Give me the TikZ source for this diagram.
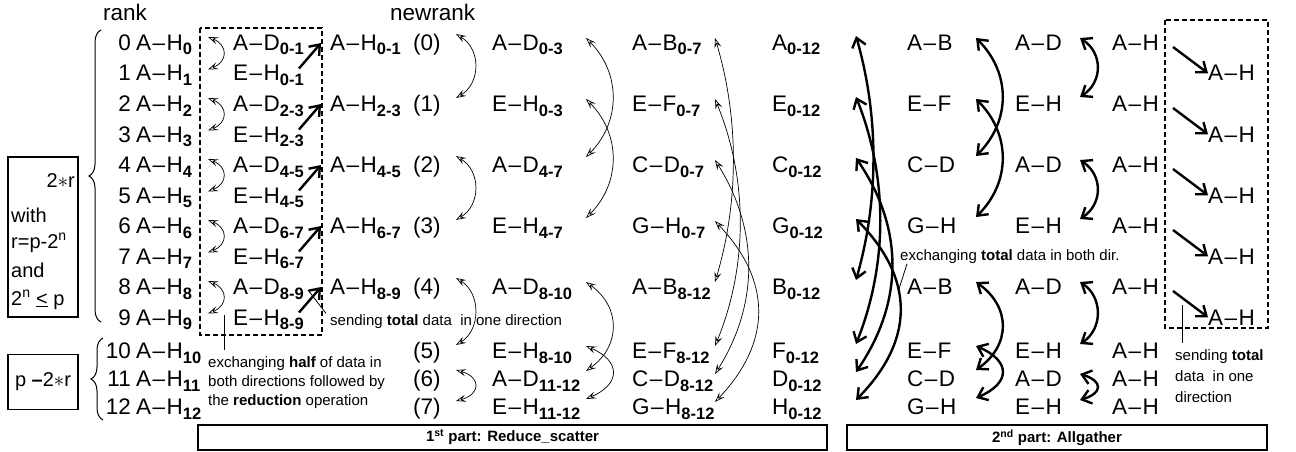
\documentclass[tikz,border=0pt]{standalone}
\usepackage{fontspec}
\setmainfont{Liberation Sans}
\usetikzlibrary{arrows.meta, positioning, calc, decorations.pathreplacing}

\newcommand{\dsh}{\kern1.5pt--\kern1.5pt}
\newcommand{\subx}[1]{\raisebox{-4.5pt}{\fontsize{16.5}{18}\selectfont\bfseries #1}}

\begin{document}
\begin{tikzpicture}[x=1pt, y=-1pt,
    cell/.style={anchor=base west, inner sep=0pt, font=\fontsize{22.5}{26}\selectfont},
    small/.style={anchor=base west, inner sep=0pt, align=left, font=\fontsize{15}{19}\selectfont},
    cond/.style={anchor=base west, inner sep=0pt, font=\fontsize{20}{24}\selectfont},
    thinarrow/.style={{Stealth[open,length=10pt,width=7pt,inset=4pt]}-{Stealth[open,length=10pt,width=7pt,inset=4pt]}, line width=0.7pt},
    thickarrow/.style={{Straight Barb[length=9pt,width=14pt]}-{Straight Barb[length=9pt,width=14pt]}, line width=2.4pt},
    onearrow/.style={-{Straight Barb[length=9pt,width=14pt]}, line width=2.4pt},
    dashbox/.style={dash pattern=on 5pt off 3pt, line width=1.2pt},
    frame/.style={draw, line width=1.3pt, inner sep=0pt},
    leader/.style={line width=0.8pt},
    bracket/.style={decorate, decoration={brace, amplitude=12pt}, line width=1pt}
]
\useasboundingbox (0,0) rectangle (1296,452);

% headers
\node[cell] (rank) at (103,21) {rank};
\node[cell] (newrank) at (390,21) {newrank};

% ranks 0..12
\foreach \k/\y in {0/50.5,1/81,2/111.5,3/142,4/172.5,5/203,6/233.5,7/264,8/294.5,9/325,10/358.5,11/386.5,12/414.5} {
  \node[cell, anchor=base east] (n\k) at (131,\y) {\k};
  \node[cell] (r\k) at (136,\y) {A\dsh H\subx{\k}};
}

% pairs inside the dashed box
\foreach \k/\j/\y/\z in {0/1/50.5/81, 2/3/111.5/142, 4/5/172.5/203, 6/7/233.5/264, 8/9/294.5/325} {
  \node[cell] (d\k) at (233,\y) {A\dsh D\subx{\k-\j}};
  \node[cell] (d\j) at (233,\z) {E\dsh H\subx{\k-\j}};
  \node[cell] (h\k) at (330,\y) {A\dsh H\subx{\k-\j}};
}
\draw[dashbox] (200,28) rectangle (322,335);

% the eight columns of the two parts
\foreach \i/\y/\s/\t/\u/\v/\w in {
    0/50.5/{A\dsh D\subx{0-3}}/{A\dsh B\subx{0-7}}/{A\subx{0-12}}/{A\dsh B}/{A\dsh D},
    1/111.5/{E\dsh H\subx{0-3}}/{E\dsh F\subx{0-7}}/{E\subx{0-12}}/{E\dsh F}/{E\dsh H},
    2/172.5/{A\dsh D\subx{4-7}}/{C\dsh D\subx{0-7}}/{C\subx{0-12}}/{C\dsh D}/{A\dsh D},
    3/233.5/{E\dsh H\subx{4-7}}/{G\dsh H\subx{0-7}}/{G\subx{0-12}}/{G\dsh H}/{E\dsh H},
    4/294.5/{A\dsh D\subx{8-10}}/{A\dsh B\subx{8-12}}/{B\subx{0-12}}/{A\dsh B}/{A\dsh D},
    5/358.5/{E\dsh H\subx{8-10}}/{E\dsh F\subx{8-12}}/{F\subx{0-12}}/{E\dsh F}/{E\dsh H},
    6/386.5/{A\dsh D\subx{11-12}}/{C\dsh D\subx{8-12}}/{D\subx{0-12}}/{C\dsh D}/{A\dsh D},
    7/414.5/{E\dsh H\subx{11-12}}/{G\dsh H\subx{8-12}}/{H\subx{0-12}}/{G\dsh H}/{E\dsh H}} {
  \node[cell] (p\i) at (413,\y) {(\i)};
  \node[cell] (s\i) at (492,\y) {\s};
  \node[cell] (t\i) at (632,\y) {\t};
  \node[cell] (u\i) at (772,\y) {\u};
  \node[cell] (v\i) at (907,\y) {\v};
  \node[cell] (w\i) at (1015,\y) {\w};
  \node[cell] (z\i) at (1112,\y) {A\dsh H};
}
\foreach \i/\y in {0/81, 1/142, 2/203, 3/264, 4/325}
  \node[cell] (y\i) at (1208,\y) {A\dsh H};
\draw[dashbox] (1165,20) rectangle (1268,328);

% column x of the connectors
\coordinate (cA) at (208,0);
\coordinate (cB) at (299,0);
\coordinate (cB2) at (321,0);
\coordinate (cP) at (456,0);
\coordinate (cS) at (586,0);
\coordinate (cT) at (715,0);
\coordinate (cU) at (856,0);
\coordinate (cV) at (976,0);
\coordinate (cW) at (1080,0);
\coordinate (cI) at (1173,0);

% 1st part
\foreach \a/\b in {0/1,2/3,4/5,6/7,8/9}
  \draw[thinarrow] ($(r\a.base -| cA)+(0,-13.5)$) .. controls +(20,8) and +(20,-8) .. ($(r\b.base -| cA)+(0,-11.5)$);
\foreach \a/\b in {0/1,2/3,4/5,6/7,8/9}
  \draw[onearrow] ($(d\b.base -| cB)+(0,-12.5)$) -- ($(d\a.base -| cB2)+(0,-7.5)$);
\foreach \a/\b/\v in {0/1/15, 2/3/15, 4/5/15, 6/7/7}
  \draw[thinarrow] ($(p\a.base -| cP)+(0,-16.5)$) .. controls +(25,\v) and +(25,-\v) .. ($(p\b.base -| cP)+(0,-13.5)$);
\foreach \a/\b/\v in {0/2/35, 1/3/35, 4/6/25, 5/7/15}
  \draw[thinarrow] ($(s\a.base -| cS)+(0,-12.5)$) .. controls +(35,\v) and +(35,-\v) .. ($(s\b.base -| cS)+(0,-15.5)$);
\foreach \a/\b/\h/\v in {0/4/24/80, 1/5/33/80, 2/6/44/70, 3/7/57/60}
  \draw[thinarrow] ($(t\a.base -| cT)+(0,-12.5)$) .. controls +(\h,\v) and +(\h,-\v) .. ($(t\b.base -| cT)+(0,-12.5)$);

% 2nd part
\foreach \a/\b/\h/\v in {0/4/23/80, 1/5/32/80, 2/6/48/70, 3/7/59/60}
  \draw[thickarrow] ($(u\a.base -| cU)+(0,-14.5)$) .. controls +(\h,\v) and +(\h,-\v) .. ($(u\b.base -| cU)+(0,-14.5)$);
\foreach \a/\b/\v in {0/2/35, 1/3/35, 4/6/25, 5/7/15}
  \draw[thickarrow] ($(v\a.base -| cV)+(0,-12.5)$) .. controls +(35,\v) and +(35,-\v) .. ($(v\b.base -| cV)+(0,-16.5)$);
\foreach \a/\b/\v in {0/1/15, 2/3/15, 4/5/15, 6/7/7}
  \draw[thickarrow] ($(w\a.base -| cW)+(0,-12.5)$) .. controls +(23,\v) and +(23,-\v) .. ($(w\b.base -| cW)+(0,-14.5)$);
\foreach \i in {0,...,4}
  \draw[onearrow] ($(z\i.base -| cI)+(0,-3.5)$) -- (y\i.west);

% notes (base of a wrapped note is its last line)
\node[small] (send1) at (330,325.5) {sending \textbf{total} data\ \ in one direction};
\node[small] (exch1) at (208,405.5) {exchanging \textbf{half} of data in\\both directions followed by\\the \textbf{reduction} operation};
\node[small] (tot2) at (900,260.5) {exchanging \textbf{total} data in both dir.};
\node[small, font=\fontsize{15}{21}\selectfont] (send2) at (1175,402) {sending \textbf{total}\\data\ \ in one\\direction};
\coordinate (lk1) at (308,290);
\coordinate (lk2) at (224,315);
\coordinate (lk3) at (898,292);
\coordinate (lk4) at (1182,305);
\draw[leader] (lk1) -- ($(send1.north west)+(-4,-1)$);
\draw[leader] (lk2) -- ($(lk2 |- exch1.north)+(0,-6)$);
\draw[leader] (lk3) -- ($(tot2.south west)+(7,0)$);
\draw[leader] (lk4) -- ($(lk4 |- send2.north)+(0,-6)$);

% bottom parts
\node[frame, minimum width=629, minimum height=25, font=\fontsize{15}{18}\selectfont\bfseries] (part1) at (512.5,437.5) {1\textsuperscript{st} part: Reduce\_scatter};
\node[frame, minimum width=420, minimum height=25, font=\fontsize{15}{18}\selectfont\bfseries] (part2) at (1057,437.5) {2\textsuperscript{nd} part: Allgather};

% left conditions
\node[frame, minimum width=70, minimum height=160] (cbox) at (43,237) {};
\node[cond, anchor=base east] (twor) at (75,187) {2$*$r};
\node[cond] (with) at (11,222) {with};
\node[cond] (rdef) at (11,248) {r=p-2\textsuperscript{n}};
\node[cond] (and) at (11,277) {and};
\node[cond] (pow) at (11,305) {2\textsuperscript{n} \underline{<} p};
\node[frame, minimum width=70, minimum height=55, font=\fontsize{20}{24}\selectfont] (rest) at (43,382) {p \textbf{--}2$*$r};
\draw[bracket] (101,322) -- (101,30);
\draw[bracket] (103,420) -- (103,338);
\end{tikzpicture}
\end{document}
